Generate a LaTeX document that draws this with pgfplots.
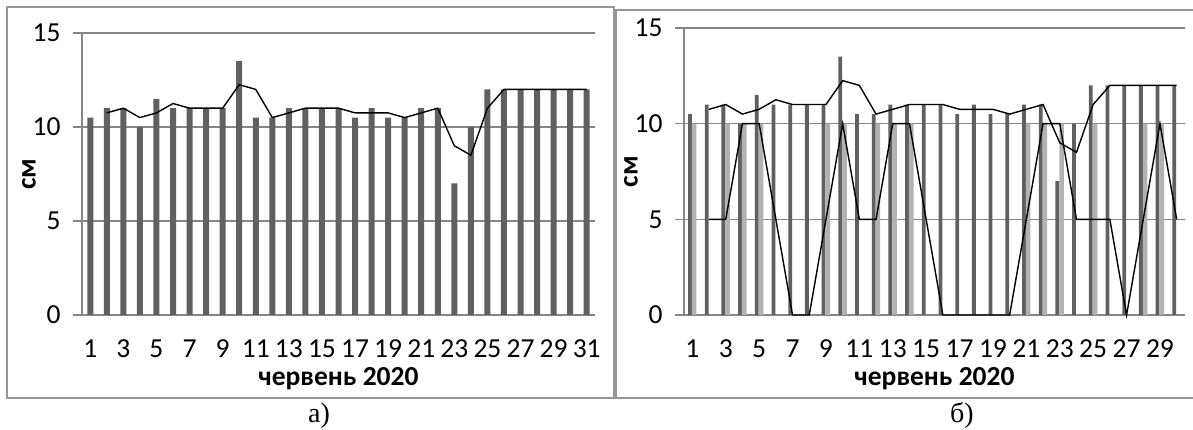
\documentclass[border=0pt]{standalone}
\usepackage{pgfplots}
\pgfplotsset{compat=1.18}
\usepackage{fontspec}
\setmainfont{Carlito}
\newfontfamily\seriffont{Liberation Serif}
\definecolor{bardark}{RGB}{96,96,96}
\definecolor{barlight}{RGB}{178,178,178}
\definecolor{axgray}{RGB}{134,134,134}
\definecolor{boxgray}{RGB}{150,150,150}
\pgfplotsset{
  excel/.style={
    scale only axis,
    ymin=0, ymax=15, ytick={0,5,10,15},
    axis lines*=left,
    axis line style={-, draw=axgray, line width=1.3pt},
    ymajorgrids,
    major grid style={draw=axgray, line width=1.3pt},
    xtick style={draw=none},
    ytick style={draw=axgray, line width=1.3pt},
    tick align=outside,
    major tick length=9pt,
    /pgf/number format/assume math mode=true,
    tick label style={font=\fontsize{27.5}{32}\selectfont},
    xticklabel style={yshift=-12pt},
    yticklabel style={xshift=-9pt},
    xlabel={\textbf{червень 2020}},
    ylabel={\textbf{см}},
    label style={font=\fontsize{27.5}{32}\selectfont},
    xlabel style={yshift=-3pt},
    ylabel style={yshift=-10pt},
    clip=false,
  }
}
\begin{document}
\begin{tikzpicture}[x=1pt,y=1pt]
\useasboundingbox (0,0) rectangle (1193,430);
% frames
\draw[boxgray, line width=1.3pt] (7,32) rectangle (614,423);
\draw[boxgray, line width=1.3pt] (1195,420) -- (616,420) -- (616,32) -- (1195,32);
% left chart
\begin{axis}[excel, at={(82pt,115pt)}, anchor=south west,
  width=513pt, height=282pt, xmin=0.5, xmax=31.5,
  xtick={1,3,...,31}]
\addplot[ybar, bar width=6pt, bar shift=0pt, fill=bardark, draw=none] coordinates {
(1,10.5) (2,11) (3,11) (4,10) (5,11.5) (6,11) (7,11) (8,11) (9,11) (10,13.5)
(11,10.5) (12,10.5) (13,11) (14,11) (15,11) (16,11) (17,10.5) (18,11) (19,10.5) (20,10.5)
(21,11) (22,11) (23,7) (24,10) (25,12) (26,12) (27,12) (28,12) (29,12) (30,12) (31,12)};
\addplot[sharp plot, black, line width=1.4pt, mark=none] coordinates {
(2,10.75) (3,11) (4,10.5) (5,10.75) (6,11.25) (7,11) (8,11) (9,11) (10,12.25)
(11,12) (12,10.5) (13,10.75) (14,11) (15,11) (16,11) (17,10.75) (18,10.75) (19,10.75) (20,10.5)
(21,10.75) (22,11) (23,9) (24,8.5) (25,11) (26,12) (27,12) (28,12) (29,12) (30,12) (31,12)};
\end{axis}
% right chart
\begin{axis}[excel, at={(684pt,115pt)}, anchor=south west,
  width=501pt, height=287pt, xmin=0.5, xmax=30.5,
  xtick={1,3,...,29}]
\addplot[ybar, bar width=3.8pt, bar shift=-2.4pt, fill=bardark, draw=none] coordinates {
(1,10.5) (2,11) (3,11) (4,10) (5,11.5) (6,11) (7,11) (8,11) (9,11) (10,13.5)
(11,10.5) (12,10.5) (13,11) (14,11) (15,11) (16,11) (17,10.5) (18,11) (19,10.5) (20,10.5)
(21,11) (22,11) (23,7) (24,10) (25,12) (26,12) (27,12) (28,12) (29,12) (30,12)};
\addplot[ybar, bar width=4.6pt, bar shift=1.8pt, fill=barlight, draw=none] coordinates {
(1,10) (2,0) (3,10) (4,10) (5,10) (6,0) (7,0) (8,0) (9,10) (10,10)
(11,0) (12,10) (13,10) (14,10) (15,0) (16,0) (17,0) (18,0) (19,0) (20,0)
(21,10) (22,10) (23,10) (24,0) (25,10) (26,0) (27,0) (28,10) (29,10) (30,0)};
\addplot[sharp plot, black, line width=1.4pt, mark=none] coordinates {
(2,10.75) (3,11) (4,10.5) (5,10.75) (6,11.25) (7,11) (8,11) (9,11) (10,12.25)
(11,12) (12,10.5) (13,10.75) (14,11) (15,11) (16,11) (17,10.75) (18,10.75) (19,10.75) (20,10.5)
(21,10.75) (22,11) (23,9) (24,8.5) (25,11) (26,12) (27,12) (28,12) (29,12) (30,12)};
\addplot[sharp plot, black, line width=1.4pt, mark=none] coordinates {
(2,5) (3,5) (4,10) (5,10) (6,5) (7,0) (8,0) (9,5) (10,10)
(11,5) (12,5) (13,10) (14,10) (15,5) (16,0) (17,0) (18,0) (19,0) (20,0)
(21,5) (22,10) (23,10) (24,5) (25,5) (26,5) (27,0) (28,5) (29,10) (30,5)};
\end{axis}
% captions
\node[font=\seriffont\fontsize{28}{32}\selectfont, anchor=base] at (319,7) {а)};
\node[font=\seriffont\fontsize{28}{32}\selectfont, anchor=base] at (962,7) {б)};
\end{tikzpicture}
\end{document}
